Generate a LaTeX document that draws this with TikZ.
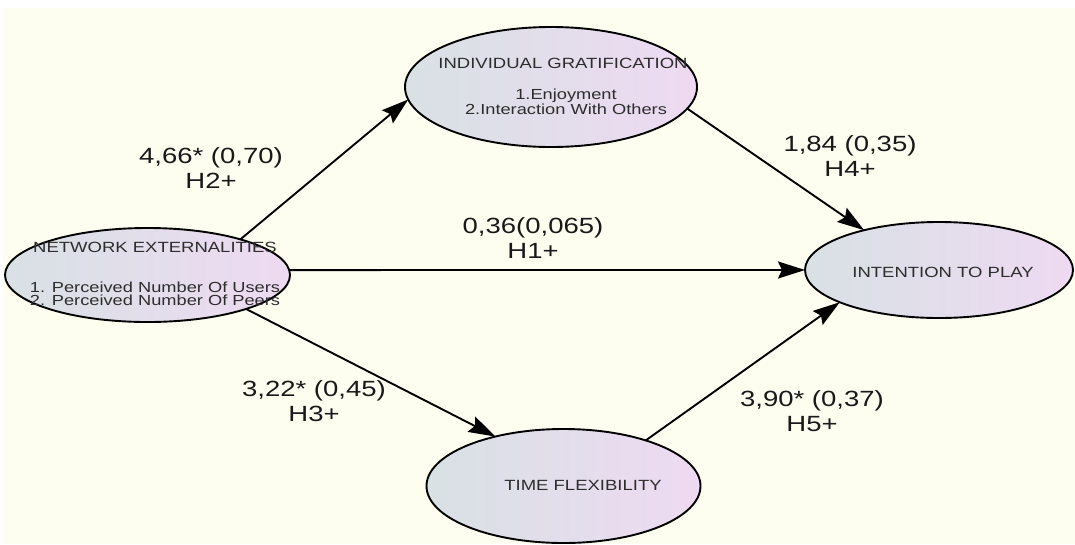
\documentclass[tikz,border=0pt]{standalone}
\usepackage{fontspec}
\setmainfont{Liberation Sans}[FakeStretch=1.25]
\usetikzlibrary{shapes.geometric,arrows.meta}
\definecolor{bg}{RGB}{253,253,240}
\definecolor{lft}{RGB}{216,225,228}
\definecolor{rgt}{RGB}{238,218,242}
\definecolor{ink}{RGB}{25,25,25}
\definecolor{etink}{RGB}{45,45,45}
\tikzset{
  ell/.style={ellipse, draw=black, line width=1.9pt, inner sep=0pt, outer sep=0pt,
              left color=lft, right color=rgt},
  etext/.style={text=etink, font=\fontsize{14.8}{14.8}\selectfont, inner sep=0pt},
  esub/.style={text=etink, font=\fontsize{14.6}{12.5}\selectfont, inner sep=0pt, align=left},
  esubc/.style={text=etink, font=\fontsize{14.6}{15}\selectfont, inner sep=0pt, align=center},
  lbl/.style={text=ink, font=\fontsize{22}{25}\selectfont, inner sep=0pt, align=center},
  conn/.style={line width=1.9pt, -{Stealth[inset=4pt,length=27pt,width=17pt]}}
}
\begin{document}
\begin{tikzpicture}[x=1pt,y=-1pt]
\fill[white] (0,0) rectangle (1075,544);
\fill[bg] (3,8) rectangle (1075,544);
\useasboundingbox (0,0) rectangle (1075,544);

% ellipses
\node[ell, minimum width=285pt, minimum height=94pt] (ne) at (147.5,275) {};
\node[ell, minimum width=292pt, minimum height=120pt] (ig) at (551,87) {};
\node[ell, minimum width=268pt, minimum height=96pt] (itp) at (939,270) {};
\node[ell, minimum width=274pt, minimum height=114pt] (tf) at (563.5,486) {};

% ellipse texts
\node[etext] (net) at (155,247) {NETWORK EXTERNALITIES};
\node[esub] (nel) at (155,294) {1. Perceived Number Of Users\\2. Perceived Number Of Peers};
\node[etext] (igt) at (563,63) {INDIVIDUAL GRATIFICATION};
\node[esubc] (igl) at (566,102) {1.Enjoyment\\2.Interaction With Others};
\node[etext] (itpt) at (943,272) {INTENTION TO PLAY};
\node[etext] (tft) at (583,485) {TIME FLEXIBILITY};

% connectors
\draw[conn] (ne.21) -- (ig.185.5);
\draw[conn] (ig.-9.9) -- (itp.152);
\draw[conn] (ne.2) -- (itp.180);
\draw[conn] (ne.-19.7) -- (tf.144);
\draw[conn] (tf.29.2) -- (itp.198.3);

% labels
\node[lbl] (l2) at (211,168) {4,66* (0,70)\\H2+};
\node[lbl] (l4) at (850,156) {1,84 (0,35)\\H4+};
\node[lbl] (l1) at (533,238) {0,36(0,065)\\H1+};
\node[lbl] (l3) at (314,401) {3,22* (0,45)\\H3+};
\node[lbl] (l5) at (812,411) {3,90* (0,37)\\H5+};
\end{tikzpicture}
\end{document}
